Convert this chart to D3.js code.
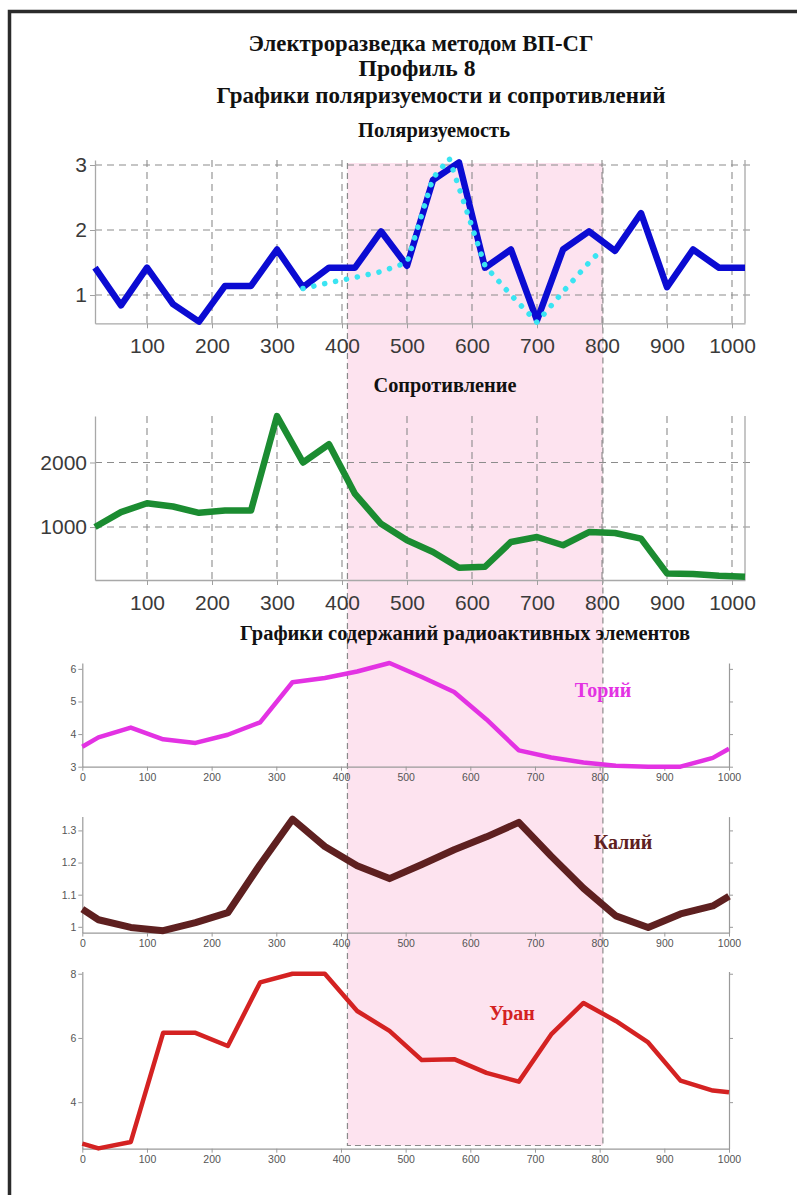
<!DOCTYPE html>
<html><head><meta charset="utf-8">
<script src="https://cdn.jsdelivr.net/npm/d3@7"></script>
<style>
html,body{margin:0;padding:0;background:#fff;}
svg{display:block;}
</style></head>
<body>
<svg id="c" width="797" height="1195"></svg>
<script>
// ---------- data ----------
const titleLines = ["Электроразведка методом ВП-СГ", "Профиль 8", "Графики поляризуемости и сопротивлений"];
const polTitle = "Поляризуемость";
const resTitle = "Сопротивление";
const radTitle = "Графики содержаний радиоактивных элементов";

const profileX = [20,60,100,140,180,220,260,300,340,380,420,460,500,540,580,620,660,700,740,780,820,860,900,940,980,1020];
const polValues = [1.42,0.84,1.42,0.86,0.59,1.14,1.14,1.70,1.12,1.42,1.42,1.98,1.45,2.77,3.04,1.42,1.70,0.61,1.70,1.98,1.68,2.26,1.12,1.70,1.42,1.42];
const polModelX = [340,380,420,460,500,540,565,620,660,700,740,780,800];
const polModelValues = [1.10,1.19,1.27,1.36,1.50,2.80,3.10,1.45,1.00,0.58,1.05,1.50,1.70];
const resValues = [1000,1231,1369,1318,1220,1256,1256,2718,2000,2282,1513,1051,795,615,369,385,769,846,718,923,908,820,282,272,246,231];

const profileTicks = [100,200,300,400,500,600,700,800,900,1000];
const polTicks = [1,2,3];
const resTicks = [1000,2000];

const radX = [0,25,75,125,175,225,275,325,375,425,475,525,575,625,675,725,775,825,875,925,975,1000];
const thorium = [3.61,3.90,4.20,3.84,3.73,3.98,4.36,5.59,5.72,5.92,6.18,5.75,5.29,4.45,3.50,3.28,3.13,3.03,3.00,3.00,3.27,3.55];
const kalium = [1.055,1.022,0.998,0.988,1.013,1.044,1.194,1.335,1.250,1.190,1.150,1.194,1.240,1.280,1.325,1.220,1.120,1.034,0.998,1.040,1.065,1.095];
const uranium = [2.71,2.56,2.76,6.16,6.16,5.75,7.73,8.00,8.00,6.84,6.22,5.31,5.34,4.91,4.64,6.11,7.09,6.53,5.86,4.67,4.36,4.31];
const radXTicks = [0,100,200,300,400,500,600,700,800,900,1000];
const thTicks = [3,4,5,6];
const kTicks = [1,1.1,1.2,1.3];
const uTicks = [4,6,8];
const seriesNames = ["Торий","Калий","Уран"];
const highlight = [410, 805];

// ---------- drawing ----------
const svg = d3.select("#c");
const SERIF = "'Liberation Serif','Times New Roman',serif";
const SANS = "'Liberation Sans',Arial,sans-serif";
const intFmt = d3.format("d");

// frame
svg.append("rect").attr("x",0).attr("y",0).attr("width",797).attr("height",1195).attr("fill","#fff");
svg.append("path").attr("d","M9.5,1195 L9.5,11.5 L797,11.5").attr("fill","none").attr("stroke","#2b2b2b").attr("stroke-width",3.5);

// scales
const xTop = d3.scaleLinear().domain([20,1020]).range([95,745]);
const yPol = d3.scaleLinear().domain([0.565,3.077]).range([323.3,160]);
const yRes = d3.scaleLinear().domain([180,2720]).range([580,416]);
const xRad = d3.scaleLinear().domain([0,1000]).range([82.3,729]);
const yTh = d3.scaleLinear().domain([3,6.18]).range([766.7,663]);
const yK = d3.scaleLinear().domain([0.982,1.343]).range([932.6,816.6]);
const yU = d3.scaleLinear().domain([2.55,8.07]).range([1148.7,971.5]);

// highlight band
const hx0 = xRad(highlight[0]), hx1 = xRad(highlight[1]);
const hy0 = 163, hy1 = 1145.5;
svg.append("rect").attr("x",hx0).attr("y",hy0).attr("width",hx1-hx0).attr("height",hy1-hy0)
  .attr("fill","#fde3ef");
svg.append("path").attr("d",`M${hx0},${hy0} L${hx0},${hy1} L${hx1},${hy1} L${hx1},${hy0}`)
  .attr("fill","none").attr("stroke","#8a8a8a").attr("stroke-width",1.2).attr("stroke-dasharray","6,4");

// titles
const titleSpec = [
  {t:titleLines[0], x:421, y:51, w:345, fs:23},
  {t:titleLines[1], x:417, y:76, w:117, fs:23},
  {t:titleLines[2], x:441, y:103, w:449, fs:23},
  {t:polTitle, x:434, y:137, w:152, fs:20},
  {t:resTitle, x:445, y:392, w:143, fs:20},
  {t:radTitle, x:465, y:640, w:450, fs:20}
];
svg.selectAll("text.title").data(titleSpec).join("text").attr("class","title")
  .attr("x",d=>d.x).attr("y",d=>d.y).attr("text-anchor","middle")
  .attr("font-family",SERIF).attr("font-weight","bold").attr("font-size",d=>d.fs)
  .attr("textLength",d=>d.w).attr("lengthAdjust","spacingAndGlyphs")
  .attr("fill","#111").text(d=>d.t);

// ----- top geophysical panels -----
function geoPanel(yScale, yTicks) {
  const [yb, yt] = yScale.range();
  const g = svg.append("g");
  const gridStyle = s => s.attr("stroke","#8c8c8c").attr("stroke-width",1.1).attr("stroke-dasharray","7,5").attr("fill","none");
  g.selectAll("line.vg").data(profileTicks).join("line").attr("class","vg")
    .attr("x1",d=>xTop(d)).attr("x2",d=>xTop(d)).attr("y1",yt).attr("y2",yb).call(gridStyle);
  g.selectAll("line.hg").data(yTicks).join("line").attr("class","hg")
    .attr("x1",xTop.range()[0]).attr("x2",xTop.range()[1]+8).attr("y1",d=>yScale(d)).attr("y2",d=>yScale(d)).call(gridStyle);
  g.append("line").attr("x1",xTop.range()[1]).attr("x2",xTop.range()[1]).attr("y1",yt).attr("y2",yb)
    .attr("stroke","#a8a8a8").attr("stroke-width",1.3);
  const ax = g.append("g").attr("transform",`translate(0,${yb})`)
    .call(d3.axisBottom(xTop).tickValues(profileTicks).tickFormat(intFmt).tickSize(5).tickPadding(10).tickSizeOuter(0));
  const ay = g.append("g").attr("transform",`translate(${xTop.range()[0]},0)`)
    .call(d3.axisLeft(yScale).tickValues(yTicks).tickFormat(intFmt).tickSize(5).tickPadding(3).tickSizeOuter(0));
  [ax,ay].forEach(a=>{
    a.select(".domain").attr("stroke","#a8a8a8").attr("stroke-width",1.3);
    a.selectAll(".tick line").attr("stroke","#a0a0a0");
    a.selectAll(".tick text").attr("font-family",SANS).attr("font-size",21).attr("fill","#3a3a3a");
  });
  return g;
}
const polG = geoPanel(yPol, polTicks);
const resG = geoPanel(yRes, resTicks);

const linePol = d3.line().x(d=>xTop(d[0])).y(d=>yPol(d[1]));
polG.append("path").attr("d",linePol(d3.zip(profileX,polValues)))
  .attr("fill","none").attr("stroke","#0b0bd2").attr("stroke-width",6.5).attr("stroke-linejoin","round");
polG.append("path").attr("d",linePol(d3.zip(polModelX,polModelValues)))
  .attr("fill","none").attr("stroke","#3ae4f2").attr("stroke-width",5.5)
  .attr("stroke-linecap","round").attr("stroke-dasharray","0.1,11");

const lineRes = d3.line().x(d=>xTop(d[0])).y(d=>yRes(d[1]));
resG.append("path").attr("d",lineRes(d3.zip(profileX,resValues)))
  .attr("fill","none").attr("stroke","#1b8c31").attr("stroke-width",6.5).attr("stroke-linejoin","round");

// ----- radioactive panels -----
function radPanel(yScale, yTicks, values, color, width, name, lx, ly) {
  const [yb, yt] = yScale.range();
  const g = svg.append("g");
  const ax = g.append("g").attr("transform",`translate(0,${yb})`)
    .call(d3.axisBottom(xRad).tickValues(radXTicks).tickFormat(intFmt).tickSize(4).tickPadding(3).tickSizeOuter(0));
  const ayl = g.append("g").attr("transform",`translate(${xRad.range()[0]},0)`)
    .call(d3.axisLeft(yScale).tickValues(yTicks).tickFormat(d=>String(d)).tickSize(4).tickPadding(2).tickSizeOuter(0));
  const ayr = g.append("g").attr("transform",`translate(${xRad.range()[1]},0)`)
    .call(d3.axisRight(yScale).tickValues(yTicks).tickFormat("").tickSize(4).tickSizeOuter(0));
  [ax,ayl,ayr].forEach(a=>{
    a.select(".domain").attr("stroke","#9a9a9a").attr("stroke-width",1.2);
    a.selectAll(".tick line").attr("stroke","#9a9a9a");
    a.selectAll(".tick text").attr("font-family",SANS).attr("font-size",10.5).attr("fill","#555");
  });
  const ln = d3.line().x(d=>xRad(d[0])).y(d=>yScale(d[1]));
  g.append("path").attr("d",ln(d3.zip(radX,values)))
    .attr("fill","none").attr("stroke",color).attr("stroke-width",width).attr("stroke-linejoin","round");
  g.append("text").attr("x",lx).attr("y",ly).attr("text-anchor","middle")
    .attr("font-family",SERIF).attr("font-weight","bold").attr("font-size",20).attr("fill",color).text(name);
}
radPanel(yTh, thTicks, thorium, "#e332e3", 4.5, seriesNames[0], 603, 697);
radPanel(yK, kTicks, kalium, "#5e2020", 7, seriesNames[1], 623, 849);
radPanel(yU, uTicks, uranium, "#d42222", 4.5, seriesNames[2], 512, 1020);
</script>
</body></html>
